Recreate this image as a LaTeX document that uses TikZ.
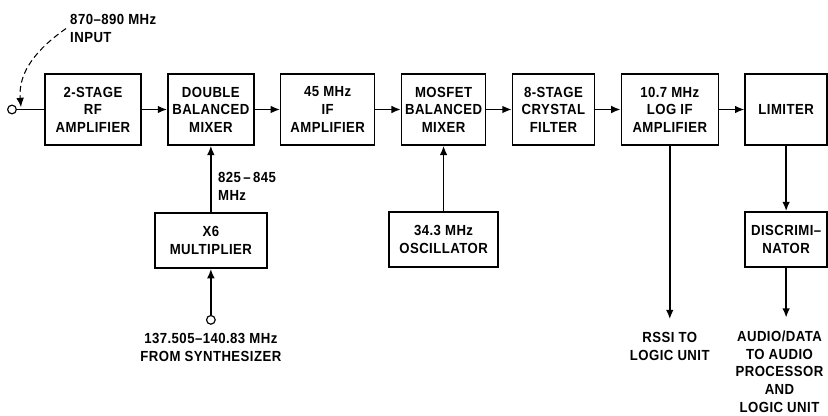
\documentclass[tikz,border=0pt]{standalone}
\usepackage{fontspec}
\setmainfont{Liberation Sans}[LetterSpace=3, FakeStretch=0.9]
\usetikzlibrary{positioning,arrows.meta}

\begin{document}
\begin{tikzpicture}[
  blk/.style={draw, line width=1.3pt, align=center, inner sep=2pt,
              font=\bfseries\fontsize{12.5}{15}\selectfont, minimum height=2.13cm},
  sblk/.style={blk, minimum height=1.65cm},
  lbl/.style={font=\bfseries\fontsize{12.5}{15}\selectfont, align=center, inner sep=2pt},
  port/.style={circle, draw, line width=1pt, fill=white, inner sep=0pt, minimum size=2.6mm},
  arr/.style={-{Latex[length=2.8mm,width=2.3mm]}, line width=1.3pt}]
\useasboundingbox (0,0) rectangle (24.84,-12.48);
% main receive chain
\node[blk, minimum width=2.88cm] (rf) at (2.79,-3.285) {2-STAGE\\RF\\AMPLIFIER};
\node[blk, minimum width=2.58cm, right=0.76cm of rf] (dbm) {DOUBLE\\BALANCED\\MIXER};
\node[blk, minimum width=2.82cm, right=0.76cm of dbm] (ifa) {45 MHz\\IF\\AMPLIFIER};
\node[blk, minimum width=2.52cm, right=0.76cm of ifa] (mos) {MOSFET\\BALANCED\\MIXER};
\node[blk, minimum width=2.46cm, right=0.76cm of mos] (xtal) {8-STAGE\\CRYSTAL\\FILTER};
\node[blk, minimum width=2.91cm, right=0.76cm of xtal] (logif) {10.7 MHz\\LOG IF\\AMPLIFIER};
\node[blk, minimum width=2.46cm, right=0.76cm of logif] (lim) {LIMITER};
% side blocks
\node[sblk, minimum width=3.36cm, below=2.0cm of dbm] (mult) {X6\\MULTIPLIER};
\node[sblk, minimum width=3.27cm, below=1.96cm of mos] (osc) {34.3 MHz\\OSCILLATOR};
\node[sblk, minimum width=2.46cm, below=1.96cm of lim] (disc) {DISCRIMI--\\NATOR};
% input
\node[port, left=0.82cm of rf] (inp) {};
\node[lbl, align=left, anchor=north west] (inlbl) at (2.03,-0.36) {870--890 MHz\\INPUT};
\coordinate (intip) at ([shift={(0.27,0.07)}]inp.center);
\draw[line width=1.3pt] (inp) -- (rf);
\draw[arr, line width=0.9pt, dash pattern=on 5pt off 3pt]
  ([xshift=-0.05cm]inlbl.west) to[out=215, in=95] (intip);
% synthesizer
\node[port, below=1.38cm of mult] (syn) {};
\node[lbl, below=0.18cm of syn] (synlbl) {137.505--140.83 MHz\\FROM SYNTHESIZER};
\node[lbl, align=left, anchor=north west] (lolbl) at ([shift={(0.14,-0.72)}]dbm.south) {825\,--\,845\\MHz};
% outputs
\coordinate[below=5.2cm of logif] (rssi);
\node[lbl, below=0.33cm of rssi] (rssilbl) {RSSI TO\\LOGIC UNIT};
\coordinate[below=1.5cm of disc] (aud);
\node[lbl, below=0.33cm of aud, xshift=-0.2cm] (audlbl) {AUDIO/DATA\\TO AUDIO\\PROCESSOR\\AND\\LOGIC UNIT};
% connections
\draw[arr] (rf) -- (dbm); \draw[arr] (dbm) -- (ifa);
\draw[arr] (ifa) -- (mos); \draw[arr] (mos) -- (xtal);
\draw[arr] (xtal) -- (logif); \draw[arr] (logif) -- (lim);
\draw[arr] (syn) -- (mult); \draw[arr] (mult) -- (dbm);
\draw[arr] (osc) -- (mos);
\draw[arr] (lim) -- (disc); \draw[arr] (disc) -- (aud);
\draw[arr] (logif) -- (rssi);
\end{tikzpicture}
\end{document}
